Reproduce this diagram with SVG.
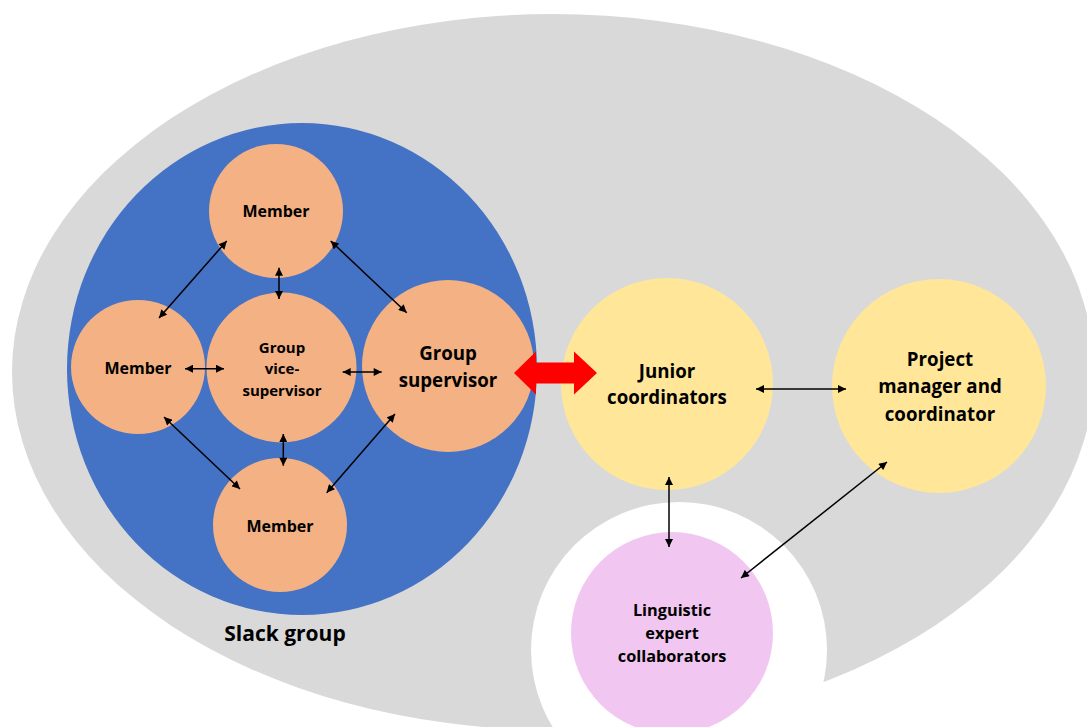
<svg xmlns="http://www.w3.org/2000/svg" width="1087" height="727" viewBox="0 0 1087 727">
<style>
text{font-family:"Open Sans","Liberation Sans",Arial,sans-serif;font-weight:700;fill:#000;text-anchor:middle}
.conn{stroke:#000;stroke-width:1.5;fill:none;marker-start:url(#ah);marker-end:url(#ah)}
.orange{fill:#F4B183}
.yellow{fill:#FFE699}
</style>
<defs>
<marker id="ah" viewBox="0 0 10 10" refX="10" refY="5" markerWidth="9" markerHeight="8" markerUnits="userSpaceOnUse" orient="auto-start-reverse">
<path d="M0,0 L10,5 L0,10 z" fill="#000"/>
</marker>
</defs>
<rect width="1087" height="727" fill="#fff"/>
<g id="background">
<ellipse cx="553" cy="372" rx="541" ry="358" fill="#D9D9D9"/>
<circle cx="679" cy="650" r="148" fill="#fff"/>
</g>
<g id="slack-group">
<ellipse cx="302" cy="369" rx="235" ry="246" fill="#4472C4"/>
<text x="285" y="641" font-size="21">Slack group</text>
</g>
<g id="member-top">
<circle class="orange" cx="276" cy="211" r="67"/>
<text x="276" y="217" font-size="16">Member</text>
</g>
<g id="member-left">
<circle class="orange" cx="138" cy="367" r="67"/>
<text x="138" y="373.5" font-size="16">Member</text>
</g>
<g id="vice-supervisor">
<circle class="orange" cx="281.5" cy="367.5" r="75"/>
<text x="282" y="352.5" font-size="15">Group</text>
<text x="282" y="374" font-size="15">vice-</text>
<text x="282" y="396" font-size="15">supervisor</text>
</g>
<g id="group-supervisor">
<circle class="orange" cx="448" cy="366" r="86"/>
<text x="448" y="360" font-size="18.7">Group</text>
<text x="448" y="386.5" font-size="18.7">supervisor</text>
</g>
<g id="member-bottom">
<circle class="orange" cx="280" cy="525" r="67"/>
<text x="280" y="531.5" font-size="16">Member</text>
</g>
<g id="junior-coordinators">
<circle class="yellow" cx="667" cy="384" r="106"/>
<text x="667" y="377.5" font-size="18.7">Junior</text>
<text x="667" y="404" font-size="18.7">coordinators</text>
</g>
<g id="project-manager">
<circle class="yellow" cx="939" cy="386" r="107"/>
<text x="940" y="366" font-size="18.7">Project</text>
<text x="940" y="393.3" font-size="18.7">manager and</text>
<text x="940" y="420.7" font-size="18.7">coordinator</text>
</g>
<g id="linguistic-experts">
<circle cx="672" cy="633" r="101" fill="#F1C7F1"/>
<text x="672" y="615.7" font-size="16.3">Linguistic</text>
<text x="672" y="639" font-size="16.3">expert</text>
<text x="672" y="662.3" font-size="16.3">collaborators</text>
</g>
<g id="connectors">
<path id="red-link" d="M514,373 L536,351.5 L536,362.5 L574,362.5 L574,351.5 L597,373 L574,394.5 L574,383.5 L536,383.5 L536,394.5 Z" fill="#FF0000"/>
<line class="conn" x1="226.7" y1="241" x2="159" y2="318"/>
<line class="conn" x1="279" y1="267.7" x2="279" y2="299"/>
<line class="conn" x1="330.7" y1="241" x2="406.7" y2="312.7"/>
<line class="conn" x1="185" y1="368.7" x2="224" y2="368.7"/>
<line class="conn" x1="342.7" y1="372" x2="381.7" y2="372"/>
<line class="conn" x1="164" y1="417" x2="240" y2="489"/>
<line class="conn" x1="283.3" y1="434" x2="283.3" y2="465.7"/>
<line class="conn" x1="395" y1="414" x2="326.7" y2="492.7"/>
<line class="conn" x1="756" y1="389" x2="846" y2="389"/>
<line class="conn" x1="669" y1="477" x2="669" y2="547"/>
<line class="conn" x1="887" y1="462" x2="741" y2="578"/>
</g>
</svg>
